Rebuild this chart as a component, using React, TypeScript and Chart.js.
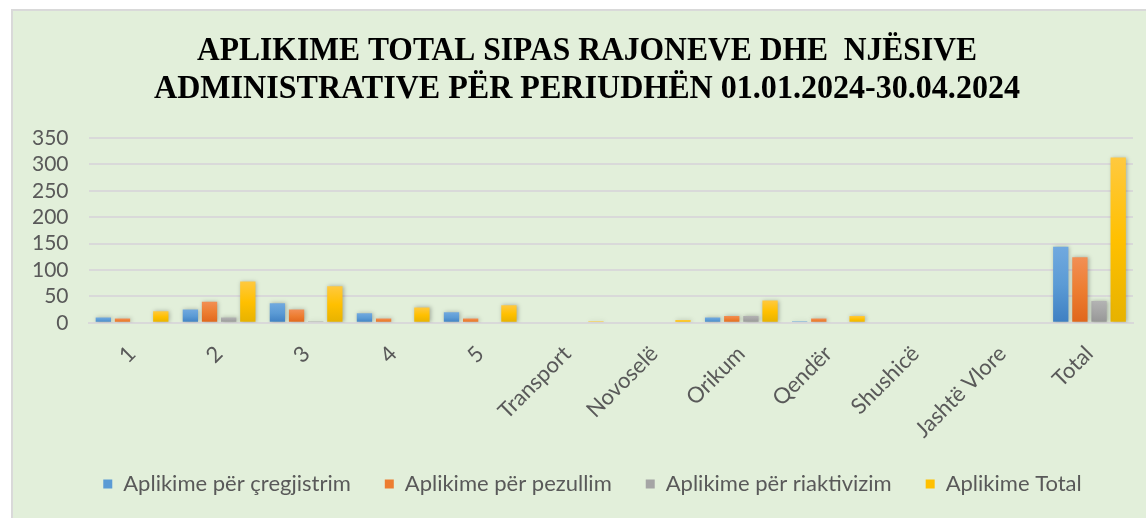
import React, { useEffect, useRef } from "react";
import { Chart, registerables } from "chart.js";

Chart.register(...registerables);

const categories = ["1", "2", "3", "4", "5", "Transport", "Novoselë", "Orikum", "Qendër", "Shushicë", "Jashtë Vlore", "Total"];
const cregjistrim = [10, 25, 37, 18, 20, 0, 0, 10, 3, 0, 0, 144];
const pezullim = [8, 40, 25, 8, 8, 0, 0, 13, 8, 0, 0, 124];
const riaktivizim = [0, 10, 3, 0, 0, 0, 0, 13, 0, 0, 0, 41];
const totali = [22, 78, 69, 29, 33, 3, 5, 42, 13, 0, 0, 313];
const seriesNames = ["Aplikime për çregjistrim", "Aplikime për pezullim", "Aplikime për riaktivizim", "Aplikime Total"];
const titleLines = ["APLIKIME TOTAL SIPAS RAJONEVE DHE  NJËSIVE", "ADMINISTRATIVE PËR PERIUDHËN 01.01.2024-30.04.2024"];

const palettes = [
  ["#71A9DF", "#5B9BD5", "#3E7FC2"],
  ["#F28F55", "#ED7D31", "#E0661C"],
  ["#B3B3B3", "#A5A5A5", "#959595"],
  ["#FFC93F", "#FFC000", "#E6B200"],
];

function gradientFor(idx: number) {
  return (ctx: any) => {
    const chart = ctx.chart;
    const area = chart.chartArea;
    if (!area || ctx.type !== "data") return palettes[idx][1];
    const ys = chart.scales.y;
    const v = ctx.raw as number;
    const top = ys.getPixelForValue(v);
    const base = ys.getPixelForValue(0);
    if (!isFinite(top) || base - top < 1) return palettes[idx][1];
    const g = chart.ctx.createLinearGradient(0, top, 0, base);
    g.addColorStop(0, palettes[idx][0]);
    g.addColorStop(0.5, palettes[idx][1]);
    g.addColorStop(1, palettes[idx][2]);
    return g;
  };
}

const titlePlugin = {
  id: "customTitle",
  afterDraw(chart: any) {
    const c = chart.ctx;
    c.save();
    c.fillStyle = "#000000";
    c.textAlign = "center";
    c.textBaseline = "middle";
    c.font = "bold 34px 'Liberation Serif', 'Times New Roman', serif";
    const targets = [780, 866];
    const ys = [51, 89];
    titleLines.forEach((line, i) => {
      const w = c.measureText(line).width;
      const sx = targets[i] / w;
      c.save();
      c.translate(587, ys[i]);
      c.scale(sx, 1);
      c.fillText(line, 0, 0);
      c.restore();
    });
    c.restore();
  },
};

const shadowPlugin = {
  id: "barShadow",
  beforeDatasetsDraw(chart: any) {
    const c = chart.ctx;
    c.save();
    c.shadowColor = "rgba(0,0,0,0.28)";
    c.shadowBlur = 4;
    c.shadowOffsetX = 1;
    c.shadowOffsetY = 0;
  },
  afterDatasetsDraw(chart: any) {
    chart.ctx.restore();
  },
};

const legendShiftPlugin = {
  id: "legendShift",
  afterLayout(chart: any) {
    const lg = chart.legend;
    if (lg) {
      lg.left += 20;
      lg.right += 20;
      lg.top -= 22;
      lg.bottom -= 22;
    }
  },
};

export default function App() {
  const ref = useRef<HTMLCanvasElement | null>(null);
  useEffect(() => {
    document.body.style.margin = "0";
    const canvas = ref.current;
    if (!canvas) return;
    const seriesData = [cregjistrim, pezullim, riaktivizim, totali];
    const chart = new Chart(canvas, {
      type: "bar",
      data: {
        labels: categories,
        datasets: seriesData.map((d, i) => ({
          label: seriesNames[i],
          data: d,
          backgroundColor: gradientFor(i) as any,
          borderWidth: 0,
          categoryPercentage: 0.88,
          barPercentage: 0.8,
        })),
      },
      plugins: [titlePlugin, shadowPlugin, legendShiftPlugin],
      options: {
        animation: false,
        responsive: false,
        maintainAspectRatio: false,
        layout: { padding: { top: 138, left: 12, right: 13, bottom: -9 } },
        plugins: {
          title: { display: false },
          tooltip: { enabled: false },
          legend: {
            position: "bottom",
            labels: {
              boxWidth: 9,
              boxHeight: 9,
              padding: 34,
              color: "#595959",
              font: { family: "Lato", size: 22 },
              generateLabels: (ch: any) =>
                ch.data.datasets.map((ds: any, i: number) => ({
                  text: ds.label,
                  fillStyle: palettes[i][1],
                  strokeStyle: palettes[i][1],
                  lineWidth: 0,
                  fontColor: "#595959",
                  hidden: false,
                  datasetIndex: i,
                })),
            },
          },
        },
        scales: {
          x: {
            grid: { display: false, drawTicks: false },
            border: { display: true, color: "#D9D9D9", width: 2 },
            ticks: {
              color: "#595959",
              font: { family: "Lato", size: 22 },
              maxRotation: 45,
              minRotation: 45,
              padding: 18,
              autoSkip: false,
            },
          },
          y: {
            min: 0,
            max: 350,
            grid: { color: "#D9D9D9", lineWidth: 2, drawTicks: false },
            border: { display: false },
            ticks: {
              stepSize: 50,
              autoSkip: false,
              color: "#595959",
              font: { family: "Lato", size: 21 },
              padding: 20,
            },
          },
        },
      },
    });
    return () => chart.destroy();
  }, []);

  return (
    <div style={{ position: "relative", width: 1146, height: 518, background: "#FFFFFF", overflow: "hidden" }}>
      <div
        style={{
          position: "absolute",
          left: 11,
          top: 9,
          width: 1146,
          height: 520,
          background: "#E2EFDA",
          border: "2px solid #D9D9D9",
          boxSizing: "border-box",
        }}
      />
      <canvas ref={ref} width={1146} height={518} style={{ position: "absolute", left: 0, top: 0, width: 1146, height: 518 }} />
    </div>
  );
}
